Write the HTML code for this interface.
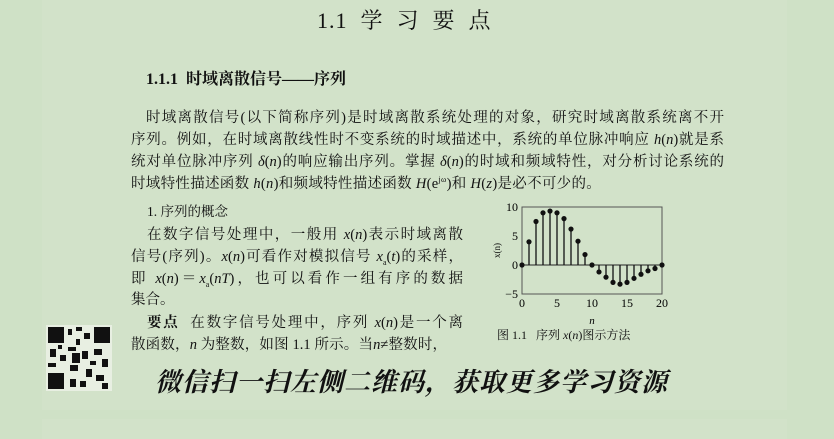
<!DOCTYPE html>
<html><head><meta charset="utf-8"><style>
body{margin:0;width:834px;height:432px;background:#cfe1c6;position:relative;overflow:hidden;font-family:"Liberation Serif","Noto Serif CJK SC",serif;color:#111}
.pg{position:absolute;left:42px;width:745px;background:#d2e2c9}
.t{position:absolute;white-space:nowrap;font-size:14.5px;line-height:16px}
.j{text-align:justify;text-align-last:justify;white-space:normal}
i{font-family:"Liberation Serif",serif}
sup,sub{line-height:0}
</style></head><body>
<div class="pg" style="top:0;height:410px"></div>
<div class="pg" style="top:419px;height:20px"></div>
<div class="t" style="left:317px;top:9px;font-size:22px;line-height:24px;letter-spacing:1px">1.1&nbsp;&nbsp;学&nbsp;&nbsp;习&nbsp;&nbsp;要&nbsp;&nbsp;点</div>
<div class="t" style="left:146px;top:71px;font-size:16px;line-height:18px;font-weight:bold;font-family:'Liberation Serif','Noto Serif CJK SC',serif">1.1.1&nbsp;&nbsp;时域离散信号——序列</div>
<div class="t j" style="left:146px;top:110px;width:578px">时域离散信号(以下简称序列)是时域离散系统处理的对象，研究时域离散系统离不开</div>
<div class="t j" style="left:131px;top:132px;width:593px">序列。例如，在时域离散线性时不变系统的时域描述中，系统的单位脉冲响应 <i>h</i>(<i>n</i>)就是系</div>
<div class="t j" style="left:131px;top:154px;width:593px">统对单位脉冲序列 <i>δ</i>(<i>n</i>)的响应输出序列。掌握 <i>δ</i>(<i>n</i>)的时域和频域特性，对分析讨论系统的</div>
<div class="t" style="left:131px;top:176px;letter-spacing:0.3px">时域特性描述函数 <i>h</i>(<i>n</i>)和频域特性描述函数 <i>H</i>(e<sup style="font-size:8px">jω</sup>)和 <i>H</i>(<i>z</i>)是必不可少的。</div>
<div class="t" style="left:147px;top:204px;font-size:13.5px">1.&nbsp;序列的概念</div>
<div class="t j" style="left:147px;top:227px;width:316px">在数字信号处理中，一般用 <i>x</i>(<i>n</i>)表示时域离散</div>
<div class="t j" style="left:131px;top:249px;width:332px">信号(序列)。<i>x</i>(<i>n</i>)可看作对模拟信号 <i>x</i><sub style="font-size:8px">a</sub>(<i>t</i>)的采样，</div>
<div class="t j" style="left:131px;top:271px;width:332px">即 <i>x</i>(<i>n</i>)＝<i>x</i><sub style="font-size:8px">a</sub>(<i>nT</i>)，也可以看作一组有序的数据</div>
<div class="t" style="left:131px;top:292px">集合。</div>
<div class="t j" style="left:147px;top:315px;width:316px"><b>要点</b>&nbsp;&nbsp;在数字信号处理中，序列 <i>x</i>(<i>n</i>)是一个离</div>
<div class="t j" style="left:131px;top:337px;width:316px">散函数，<i>n</i> 为整数，如图 1.1 所示。当<i>n</i>≠整数时，</div>
<div class="t" style="left:497px;top:328px;font-size:12px;line-height:14px">图 1.1&nbsp;&nbsp;&nbsp;序列 <i>x</i>(<i>n</i>)图示方法</div>
<svg style="position:absolute;left:46px;top:325px" width="66" height="66" viewBox="0 0 66 66">
<rect width="66" height="66" fill="#e8efe2"/>
<g fill="#111">
<rect x="2" y="2" width="16" height="16"/><rect x="48" y="2" width="16" height="16"/><rect x="2" y="48" width="16" height="16"/>
<rect x="22" y="4" width="4" height="6"/><rect x="30" y="2" width="6" height="4"/><rect x="38" y="8" width="6" height="6"/><rect x="22" y="22" width="8" height="4"/><rect x="4" y="24" width="6" height="8"/><rect x="14" y="30" width="6" height="6"/><rect x="36" y="26" width="6" height="8"/><rect x="48" y="24" width="8" height="6"/><rect x="56" y="34" width="6" height="8"/><rect x="24" y="40" width="8" height="6"/><rect x="40" y="44" width="6" height="8"/><rect x="50" y="50" width="8" height="6"/><rect x="24" y="54" width="6" height="8"/><rect x="34" y="56" width="6" height="6"/><rect x="2" y="38" width="8" height="4"/><rect x="44" y="36" width="6" height="4"/><rect x="56" y="58" width="6" height="6"/>
<rect x="26" y="28" width="8" height="10"/><rect x="12" y="20" width="4" height="4"/><rect x="30" y="14" width="4" height="6"/>
</g></svg>
<div class="t" style="left:155px;top:368px;font-size:26px;line-height:30px;font-weight:bold;font-style:italic;letter-spacing:1px;font-family:'Liberation Serif','Noto Serif CJK SC',serif">微信扫一扫左侧二维码，获取更多学习资源</div>
<svg id="chart" style="position:absolute;left:480px;top:195px" width="200" height="135"></svg>
<script>
const nVals=[0,1,2,3,4,5,6,7,8,9,10,11,12,13,14,15,16,17,18,19,20];
const xVals=[0,4,7.5,9,9.3,9,8,6.2,4.1,1.8,0,-1.2,-2.1,-3,-3.3,-3,-2.3,-1.6,-1,-0.6,0];
const xTicks=[0,5,10,15,20];
const yTicks=[-5,0,5,10];
const svg=document.getElementById('chart');
const NS='http://www.w3.org/2000/svg';
const L=42,R=182,T=12,B=99;
const sx=v=>L+(v-0)/20*(R-L);
const sy=v=>B-(v+5)/15*(B-T);
function mk(tag,attrs,txt){const e=document.createElementNS(NS,tag);for(const k in attrs)e.setAttribute(k,attrs[k]);if(txt!==undefined)e.textContent=txt;svg.appendChild(e);return e;}
let f=mk('rect',{x:L,y:T,width:R-L,height:B-T,fill:'none',stroke:'#555','stroke-width':1});


let z=mk('line',{x1:L,x2:R,y1:sy(0),y2:sy(0),stroke:'#222','stroke-width':1});


xTicks.forEach(t=>{
 let e=mk('text',{x:sx(t),y:B+13,'text-anchor':'middle','font-size':12,'font-family':'Liberation Serif'},String(t));
 
 
});
yTicks.forEach(t=>{
 let e=mk('text',{x:L-4,y:sy(t)+4,'text-anchor':'end','font-size':12,'font-family':'Liberation Serif'},t<0?'−'+(-t):String(t));
 
 
});
let xl=mk('text',{x:sx(10),y:B+30,'text-anchor':'middle','font-size':11,'font-style':'italic','font-family':'Liberation Serif'},'n');


let yl=mk('text',{x:20,y:sy(2.5),'text-anchor':'middle','font-size':9,'font-family':'Liberation Serif',transform:'rotate(-90 20 '+sy(2.5)+')'},'x(n)');


nVals.forEach((n,i)=>{
 let s=mk('line',{x1:sx(n),x2:sx(n),y1:sy(0),y2:sy(xVals[i]),stroke:'#111','stroke-width':1.3});
 
 
 let c=mk('circle',{cx:sx(n),cy:sy(xVals[i]),r:2.6,fill:'#111'});
 
 
});
</script>
</body></html>
